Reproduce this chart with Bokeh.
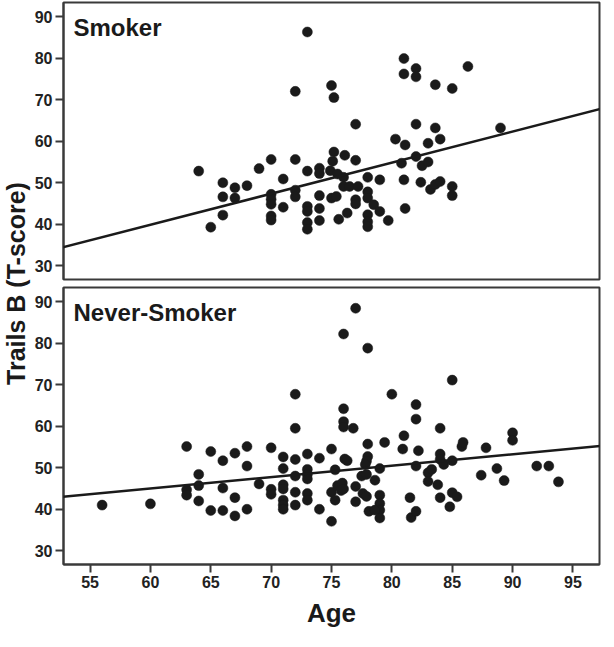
import math
from bokeh.plotting import figure
from bokeh.layouts import row, column
from bokeh.models import Range1d, Slope, Label, FixedTicker
from bokeh.embed import file_html
from bokeh.resources import INLINE

# ---------------- data ----------------
smoker_age = [64.0, 65.0, 66.0, 66.0, 66.0, 67.0, 67.0, 68.0, 69.0, 70.0, 70.0, 70.0, 70.0, 70.0, 70.0,
              71.0, 71.0, 72.0, 72.0, 72.0, 72.0, 73.0, 73.0, 73.0, 73.0, 73.0, 73.0,
              74.0, 74.0, 74.0, 74.0, 74.0,
              75.0, 75.2, 75.2, 75.1, 74.9, 75.5, 76.0, 76.0, 76.5, 77.2, 75.0, 75.4,
              75.6, 76.3, 76.1, 77.0, 77.0, 77.0, 77.0, 78.0, 78.0, 78.0, 78.5, 79.0, 78.0, 78.0, 78.0,
              79.0, 79.7, 80.3, 81.1, 80.8, 81.0, 81.1, 81.0, 81.0, 82.0, 82.0, 82.0, 82.0, 82.5, 83.0,
              82.4, 83.0, 83.6, 83.6, 84.0, 83.2, 83.6, 84.0, 85.0, 85.0, 85.0, 86.3, 89.0]
smoker_score = [52.8, 39.3, 50.0, 46.6, 42.2, 48.8, 46.3, 49.3, 53.4, 55.6, 47.2, 46.0, 44.8, 42.0, 41.0,
                50.9, 44.1, 72.0, 55.6, 48.2, 46.6, 86.3, 52.8, 44.3, 43.1, 40.4, 38.8,
                53.5, 52.2, 46.9, 43.8, 40.9,
                73.4, 70.5, 57.4, 55.2, 52.9, 52.1, 51.3, 49.1, 49.1, 49.1, 46.3, 46.7,
                41.2, 42.7, 56.6, 55.4, 64.1, 45.9, 44.9, 51.3, 47.8, 46.3, 44.7, 43.1, 42.3, 40.6, 39.4,
                50.7, 40.9, 60.5, 59.1, 54.7, 50.7, 43.8, 79.9, 76.2, 77.5, 75.5, 64.1, 56.3, 54.1, 55.0,
                50.1, 59.5, 73.6, 63.2, 60.5, 48.4, 49.6, 50.3, 72.7, 49.1, 46.9, 78.0, 63.2]

never_age = [56.0, 60.0, 63.0, 63.0, 63.0, 64.0, 64.0, 64.0, 65.0, 65.0, 66.0, 66.0, 66.0, 67.0, 67.0, 67.0,
             68.0, 68.0, 68.0, 69.0, 70.0, 70.0, 70.0, 71.0, 71.0, 71.0, 71.0, 71.0, 71.0, 71.0,
             72.0, 72.0, 72.0, 72.0, 72.0, 72.0, 73.0, 73.0, 73.0, 73.0, 73.0, 73.0, 74.0, 74.0,
             75.0, 75.3, 75.0, 75.3, 75.0, 75.5, 75.9, 75.8, 76.0, 76.0, 76.0, 76.0, 76.0, 76.8, 77.0,
             76.1, 76.3, 77.0, 77.0, 78.0, 78.0, 78.0, 77.9, 77.8, 77.5, 77.9, 78.6, 77.6, 77.9, 78.1,
             79.0, 79.0, 79.0, 79.0, 78.6, 79.0, 79.4, 80.0, 81.0, 80.9, 81.5, 81.6, 82.0, 82.0, 82.0,
             82.2, 82.0, 83.0, 83.3, 83.0, 84.0, 84.0, 84.0, 84.3, 83.8, 84.0, 85.0, 85.0, 85.0, 85.4,
             84.8, 85.8, 85.9, 87.4, 87.8, 88.7, 89.3, 90.0, 90.0, 92.0, 93.0, 93.8]
never_score = [41.0, 41.3, 55.1, 44.7, 43.4, 48.4, 45.7, 42.0, 53.9, 39.7, 51.7, 45.1, 39.7, 53.5, 42.8, 38.4,
               55.1, 50.4, 40.0, 46.1, 54.8, 44.8, 43.6, 52.6, 49.8, 45.9, 44.9, 42.2, 41.0, 40.0,
               67.7, 59.5, 52.0, 48.0, 44.1, 41.0, 53.3, 49.6, 48.4, 47.3, 43.8, 42.2, 52.3, 40.0,
               54.5, 49.5, 44.1, 42.2, 37.1, 45.7, 46.3, 44.5, 44.9, 82.2, 64.2, 61.1, 59.8, 59.5, 88.4,
               52.1, 51.7, 45.5, 41.8, 78.8, 55.7, 52.7, 51.6, 50.8, 48.0, 48.4, 47.0, 43.8, 43.1, 39.5,
               43.4, 41.4, 39.8, 37.9, 39.8, 49.8, 56.1, 67.7, 57.7, 54.5, 42.8, 38.0, 39.5, 65.2, 61.7,
               54.1, 50.4, 48.8, 49.6, 46.7, 59.5, 53.3, 52.0, 50.8, 45.9, 42.8, 71.1, 51.7, 44.0, 43.0,
               40.6, 55.1, 56.1, 48.2, 54.8, 49.8, 46.9, 58.4, 56.6, 50.4, 50.4, 46.6]

x_ticks = [55, 60, 65, 70, 75, 80, 85, 90, 95]
y_ticks = [30, 40, 50, 60, 70, 80, 90]
panel_titles = ["Smoker", "Never-Smoker"]
fit_smoker = {"slope": 0.748, "intercept": -5.0}
fit_never = {"slope": 0.275, "intercept": 28.5}
x_label = "Age"
y_label = "Trails B (T-score)"

# ---------------- style ----------------
FONT = "Liberation Sans"
LW = 31            # width of the strip that holds the shared y label
BL = 28            # left border (y ticks + tick labels)
FW, FH = 598 - LW - BL - 3, 277
X0, X1 = 52.8, 97.2
Y0, Y1 = 26.7, 93.4
FRAME = "#3a3a3a"
INK = "#1a1a1a"


def make_panel(age, score, title, fit, show_x):
    p = figure(frame_width=FW, frame_height=FH,
               x_range=Range1d(X0, X1), y_range=Range1d(Y0, Y1),
               output_backend="svg", toolbar_location=None,
               min_border_left=BL, min_border_right=3,
               min_border_top=4 if show_x else 2,
               min_border_bottom=0 if show_x else 4)
    p.grid.visible = False
    p.outline_line_color = FRAME
    p.outline_line_width = 2
    p.background_fill_color = "white"
    p.border_fill_color = "white"

    p.yaxis.ticker = FixedTicker(ticks=y_ticks)
    p.xaxis.ticker = FixedTicker(ticks=x_ticks)
    for ax in (p.xaxis[0], p.yaxis[0]):
        ax.axis_line_color = FRAME
        ax.axis_line_width = 2
        ax.major_tick_line_color = FRAME
        ax.major_tick_line_width = 2
        ax.major_tick_in = 0
        ax.major_tick_out = 8
        ax.minor_tick_line_color = None
        ax.major_label_text_font = FONT
        ax.major_label_text_font_style = "bold"
        ax.major_label_text_font_size = "16px"
        ax.major_label_text_color = "#222222"
        ax.major_label_standoff = 3
    if show_x:
        p.xaxis.axis_label = x_label
        p.xaxis.axis_label_text_font = FONT
        p.xaxis.axis_label_text_font_style = "bold"
        p.xaxis.axis_label_text_font_size = "26px"
        p.xaxis.axis_label_text_color = "#1a1a1a"
        p.xaxis.axis_label_standoff = 7
    else:
        p.xaxis.visible = False

    p.scatter(age, score, size=10, marker="circle", fill_color=INK, line_color=INK, line_width=0.5)
    p.add_layout(Slope(gradient=fit["slope"], y_intercept=fit["intercept"],
                       line_color=INK, line_width=2.5))
    p.add_layout(Label(x=X0 + 10 * (X1 - X0) / FW, y=90.6, text=title, text_font=FONT,
                       text_font_style="bold", text_font_size="24px", text_color="#1a1a1a",
                       text_baseline="top", text_align="left"))
    return p


top = make_panel(smoker_age, smoker_score, panel_titles[0], fit_smoker, False)
bottom = make_panel(never_age, never_score, panel_titles[1], fit_never, True)

LH = 626
lab = figure(frame_width=LW, frame_height=LH, x_range=Range1d(0, LW), y_range=Range1d(0, LH),
             output_backend="svg", toolbar_location=None,
             min_border_left=0, min_border_right=0, min_border_top=0, min_border_bottom=0)
lab.axis.visible = False
lab.grid.visible = False
lab.outline_line_color = None
lab.add_layout(Label(x=LW / 2, y=LH - 283, text=y_label, angle=math.pi / 2, text_font=FONT,
                     text_font_style="bold", text_font_size="25px", text_color="#1a1a1a",
                     text_align="center", text_baseline="middle"))

layout = row(lab, column(top, bottom))

open("out.html", "w").write(file_html(layout, INLINE))
